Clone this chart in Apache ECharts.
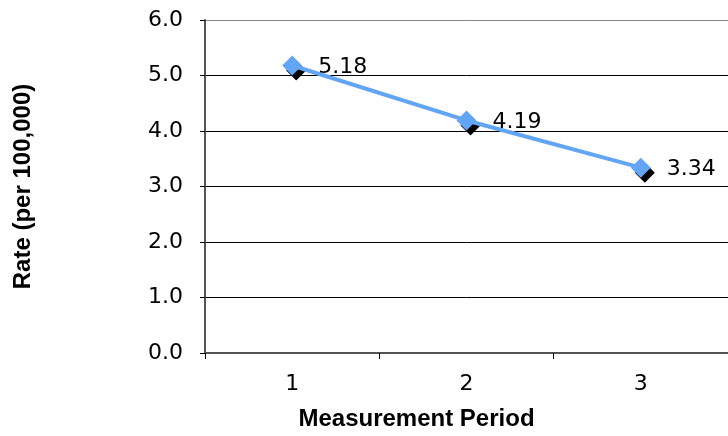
<!DOCTYPE html>
<html><head><meta charset="utf-8">
<script src="https://cdn.jsdelivr.net/npm/echarts@6/dist/echarts.min.js"></script>
<style>html,body{margin:0;padding:0;background:#fff}#c{width:728px;height:436px}</style>
</head><body><div id="c"></div>
<script>
const categories = ['1', '2', '3'];
const rates = [5.18, 4.19, 3.34];
const yTicks = [0, 1, 2, 3, 4, 5, 6];

const chart = echarts.init(document.getElementById('c'));
const font = 'DejaVu Sans';
const nameFont = 'Liberation Sans';
chart.setOption({
  animation: false,
  textStyle: { fontFamily: font },
  grid: { left: 205, top: 20, width: 525, height: 339 },
  xAxis: {
    type: 'category', data: categories, boundaryGap: true,
    name: 'Measurement Period', nameLocation: 'middle', nameGap: 54,
    nameTextStyle: { fontFamily: nameFont, fontSize: 24, fontWeight: 'bold', color: '#000', padding: [0, 100, 0, 0] },
    axisLine: { lineStyle: { color: '#555', width: 2 } },
    axisTick: { show: true, length: 6, lineStyle: { color: '#000' } },
    axisLabel: { fontFamily: font, fontSize: 22, color: '#000', margin: 20 }
  },
  yAxis: {
    type: 'value', min: yTicks[0], max: yTicks[yTicks.length - 1], interval: 1,
    name: 'Rate (per 100,000)', nameLocation: 'middle', nameGap: 170,
    nameTextStyle: { fontFamily: nameFont, fontSize: 24, fontWeight: 'bold', color: '#000' },
    axisLine: { show: true, lineStyle: { color: '#555', width: 2 } },
    axisTick: { show: true, length: 5, lineStyle: { color: '#000' } },
    axisLabel: { fontFamily: font, fontSize: 22, color: '#000', margin: 22, formatter: v => v.toFixed(1) },
    splitLine: { show: true, lineStyle: { color: ['#000', '#000', '#000', '#000', '#000', '#000', '#888'], width: 1 } }
  },
  series: [
    {
      type: 'line', data: rates, z: 2,
      symbol: 'diamond', symbolSize: 20, symbolOffset: [4, 5],
      itemStyle: { color: '#000' },
      lineStyle: { opacity: 0 },
      label: { show: false }
    },
    {
      type: 'line', data: rates, z: 3,
      symbol: 'diamond', symbolSize: 20,
      itemStyle: { color: '#63a5f5' },
      lineStyle: { color: '#63a5f5', width: 4 },
      label: { show: true, position: 'right', distance: 15, offset: [1, 2], fontFamily: font, fontSize: 22, color: '#000', formatter: p => p.value.toFixed(2) }
    }
  ]
});
</script></body></html>
